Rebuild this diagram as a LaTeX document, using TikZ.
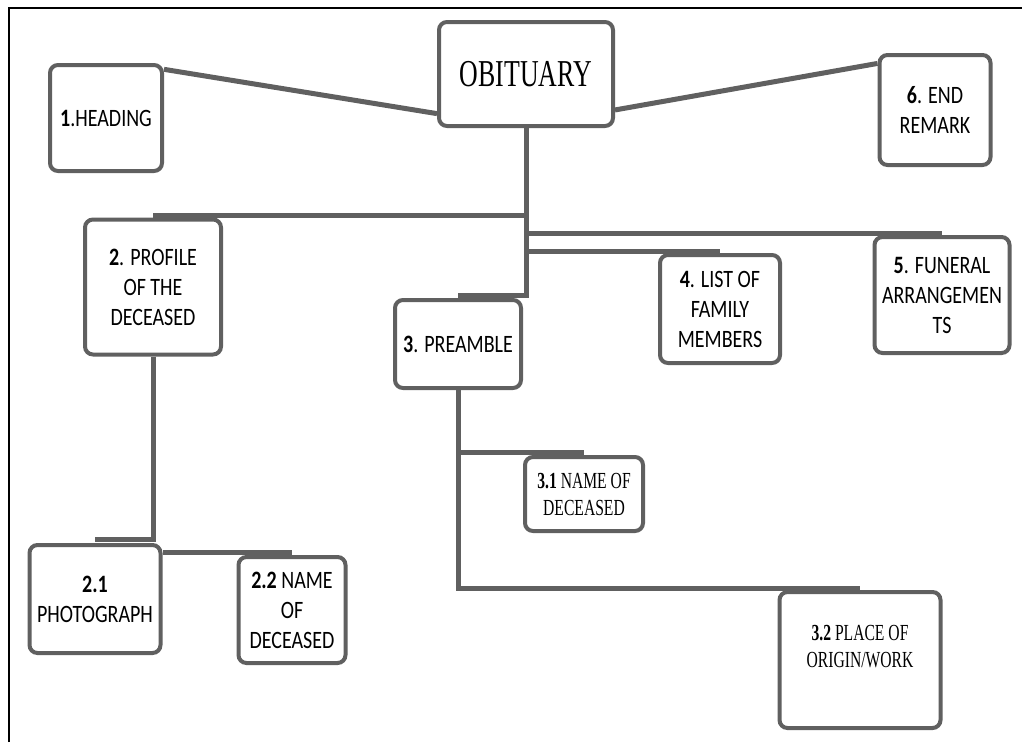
\documentclass[tikz,border=0pt]{standalone}
\usepackage{fontspec}
\setmainfont{Carlito}[FakeStretch=0.8]
\newfontfamily\myserif{Liberation Serif}[FakeStretch=0.68]
\definecolor{myGray}{RGB}{96,96,96}
\tikzset{
myBox/.style={
	rectangle, rounded corners=8pt, draw=myGray, line width=4pt, fill=white,
	align=center, inner sep=0pt, text=black,
	font=\fontsize{25}{30}\selectfont
}
, mySerif/.style={font=\myserif\fontsize{23}{27}\selectfont}
% link
, myLink/.style={draw=myGray, line width=5pt}
}

\begin{document}
\begin{tikzpicture}[x=1pt,y=-1pt]
	\useasboundingbox (0,0) rectangle (1022,742);
	% frame
	\draw[line width=1.5pt] (9,742) -- (9,8) -- (1022,8);
	% nodes
	\node[myBox, minimum width=174, minimum height=104, font=\myserif\fontsize{38}{40}\selectfont] (Obit) at (526,74) {OBITUARY};
	\node[myBox, minimum width=112, minimum height=106] (Head) at (106,118) {\textbf{1}.HEADING};
	\node[myBox, minimum width=111, minimum height=110] (EndR) at (935,110) {\textbf{6}. END\\REMARK};
	\node[myBox, minimum width=136, minimum height=135] (Prof) at (153,287) {\textbf{2}. PROFILE\\OF THE\\DECEASED};
	\node[myBox, minimum width=126, minimum height=88] (Pream) at (458,344) {\textbf{3}. PREAMBLE};
	\node[myBox, minimum width=120, minimum height=108] (Fam) at (720,309) {\textbf{4}. LIST OF\\FAMILY\\MEMBERS};
	\node[myBox, minimum width=135, minimum height=116] (Fun) at (942,295) {\textbf{5}. FUNERAL\\ARRANGEMEN\\TS};
	\node[myBox, minimum width=131, minimum height=108] (Photo) at (95,599) {\textbf{2.1}\\PHOTOGRAPH};
	\node[myBox, minimum width=107, minimum height=106] (Name22) at (292,610) {\textbf{2.2} NAME\\OF\\DECEASED};
	\node[myBox, mySerif, minimum width=118, minimum height=74] (Name31) at (584,494) {\textbf{3.1} NAME OF\\DECEASED};
	\node[myBox, mySerif, minimum width=161, minimum height=136] (Place) at (860,660) {\textbf{3.2} PLACE OF\\ORIGIN/WORK\\~};
	% tops of the boxes
	\coordinate (tProf) at ([yshift=2pt]Prof.north);
	\coordinate (tPream) at ([yshift=3pt]Pream.north);
	\coordinate (tFam) at ([yshift=2pt]Fam.north);
	\coordinate (tFun) at ([yshift=2pt]Fun.north);
	\coordinate (tPhoto) at ([yshift=4pt]Photo.north);
	\coordinate (tName22) at ([yshift=3pt]Name22.north);
	\coordinate (tName31) at ([yshift=3pt]Name31.north);
	\coordinate (tPlace) at ([yshift=2pt]Place.north);
	% links
	\draw[myLink] (Head.40) -- (Obit.204);
	\draw[myLink] (Obit.338) -- (EndR.141);
	\draw[myLink] (Obit.south) |- (tPream);
	\draw[myLink] (Obit.south |- tProf) -- (tProf);
	\draw[myLink] (Obit.south |- tFun) -- (tFun);
	\draw[myLink] (Obit.south |- tFam) -- (tFam);
	\draw[myLink] (Prof.south) |- (tPhoto);
	\draw[myLink] (tName22 -| Photo.east) -- (tName22);
	\draw[myLink] (Pream.south) |- (tPlace);
	\draw[myLink] (Pream.south |- tName31) -- (tName31);
\end{tikzpicture}
\end{document}
